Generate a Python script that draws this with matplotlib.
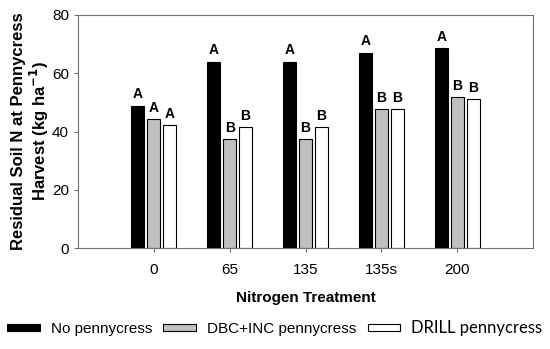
import numpy as np
import matplotlib
matplotlib.use('Agg')
import matplotlib.pyplot as plt

plt.rcParams['font.family'] = ['Liberation Sans', 'DejaVu Sans']

# Data
treatments = ['0', '65', '135', '135s', '200']
no_pennycress = [48.9, 64.0, 64.0, 67.1, 68.6]
dbc_inc = [44.3, 37.4, 37.4, 47.6, 51.8]
drill = [42.1, 41.5, 41.5, 47.6, 51.2]
letters_no = ['A', 'A', 'A', 'A', 'A']
letters_dbc = ['A', 'B', 'B', 'B', 'B']
letters_drill = ['A', 'B', 'B', 'B', 'B']

series = [
    ('No pennycress', no_pennycress, letters_no, 'black'),
    ('DBC+INC pennycress', dbc_inc, letters_dbc, '#c0c0c0'),
    ('DRILL pennycress', drill, letters_drill, 'white'),
]

fig = plt.figure(figsize=(5.5, 3.49), dpi=100)
ax = fig.add_axes([78 / 550, 1 - 248 / 349, 455 / 550, 233 / 349])

x = np.arange(len(treatments))
width = 0.17
offsets = [-0.21, 0.0, 0.21]

handles = []
for (name, vals, lets, color), off in zip(series, offsets):
    bars = ax.bar(x + off, vals, width, color=color, edgecolor='black',
                  linewidth=0.8, label=name)
    handles.append(bars)
    for xi, v, lab in zip(x + off, vals, lets):
        ax.text(xi, v + 1.5, lab, ha='center', va='bottom',
                fontsize=10, fontweight='bold')

ax.set_xlim(-1, 5)
ax.set_ylim(0, 80)
ax.set_yticks([0, 20, 40, 60, 80])
ax.set_xticks(x)
ax.set_xticklabels(treatments)
ax.tick_params(axis='both', labelsize=11, direction='out', length=3,
               color='#707070', width=0.8)
ax.tick_params(axis='x', pad=8)
for sp in ax.spines.values():
    sp.set_color('#707070')
    sp.set_linewidth(0.8)

ax.set_ylabel('Residual Soil N at Pennycress\nHarvest (kg ha$^{\\mathbf{-1}}$)',
              fontsize=12, fontweight='bold', labelpad=1, linespacing=1.1)
ax.set_xlabel('Nitrogen Treatment', fontsize=11, fontweight='bold', labelpad=10)

leg = fig.legend(handles=handles, labels=[s[0] for s in series],
                 loc='center left', bbox_to_anchor=(7 / 550, 1 - 328 / 349),
                 ncol=3, frameon=False, fontsize=11, handlelength=2.15,
                 handleheight=0.4, columnspacing=0.75, handletextpad=0.7,
                 borderpad=0, borderaxespad=0)
# last legend entry uses a different typeface in the original
leg.get_texts()[2].set_fontfamily('Lato')
leg.get_texts()[2].set_fontsize(12)

plt.savefig('out.png', dpi=100)
plt.close()
